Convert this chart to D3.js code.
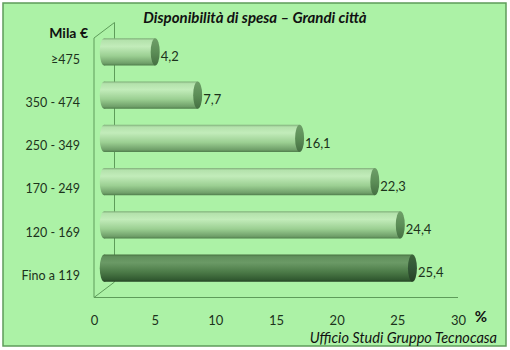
<!DOCTYPE html>
<html>
<head>
<meta charset="utf-8">
<script src="https://cdn.jsdelivr.net/npm/d3@7"></script>
<style>
  body { margin: 0; background: #fff; }
  svg { display: block; font-family: Lato, "Open Sans", sans-serif; }
</style>
</head>
<body>
<svg width="510" height="350"></svg>
<script>
// data
const categories = ['≥475', '350 - 474', '250 - 349', '170 - 249', '120 - 169', 'Fino a 119'];
const values = [4.2, 7.7, 16.1, 22.3, 24.4, 25.4];
const xTicks = [0, 5, 10, 15, 20, 25, 30];
const highlighted = ['Fino a 119'];

const data = categories.map((c, i) => ({ cat: c, value: values[i] }));

let svg = d3.select('svg');

// 3d depth of the plot box
let depthX = 20.5, depthY = -15.5;

let xScale = d3.scaleLinear()
  .domain([0, 30])
  .range([94, 458]);

let yScale = d3.scaleBand()
  .domain(categories)
  .range([38, 297.5])
  .paddingInner(0.37)
  .paddingOuter(0.185);

let band = d3.scaleBand().domain(categories).range([38, 297.5]);

// background + frame
svg.append('rect')
  .attr('x', 3).attr('y', 3)
  .attr('width', 503).attr('height', 343)
  .attr('fill', '#acf2a6')
  .attr('stroke', '#5e9c5a')
  .attr('stroke-width', 1.5);

let defs = svg.append('defs');
function grad(id, stops) {
  let g = defs.append('linearGradient')
    .attr('id', id)
    .attr('x1', 0).attr('y1', 0).attr('x2', 0).attr('y2', 1);
  stops.forEach(s => g.append('stop').attr('offset', s[0]).attr('stop-color', s[1]));
}
grad('gLight', [[0, '#7fae79'], [0.08, '#b4e2ac'], [0.3, '#c2ecba'], [0.65, '#9bcf92'], [0.92, '#6f9f69'], [1, '#4f7d4b']]);
grad('gDark', [[0, '#46703f'], [0.08, '#62905d'], [0.3, '#6b9a66'], [0.65, '#4b7a47'], [0.92, '#325a31'], [1, '#244223']]);
grad('cLight', [[0, '#6f9f69'], [0.5, '#5c8e57'], [1, '#456f42']]);
grad('cDark', [[0, '#3d653a'], [0.5, '#325536'], [1, '#254024']]);

// walls (3d box lines)
let axisColor = '#5e9c5a';
let x0 = xScale(0), yTop = 38, yBot = 297.5;
let wall = svg.append('g')
  .attr('stroke', axisColor)
  .attr('stroke-width', 1)
  .attr('fill', 'none');
wall.append('path')
  .attr('d', `M${x0},${yTop} L${x0 + depthX},${yTop + depthY} L${x0 + depthX},${yBot + depthY}`);
wall.append('path')
  .attr('d', `M${x0},${yTop} L${x0},${yBot} L${xScale(30)},${yBot}`);
wall.append('path')
  .attr('d', `M${x0},${yBot} L${x0 + depthX},${yBot + depthY}`);

// cylinder bars
let capRx = 4.5;
let offX = depthX / 2, offY = depthY / 2;
let bars = svg.selectAll('g.bar')
  .data(data)
  .enter()
  .append('g')
  .classed('bar', true)
  .attr('transform', d => `translate(${offX},${yScale(d.cat) + offY})`);

let bh = yScale.bandwidth();
let isDark = d => highlighted.includes(d.cat);

bars.append('ellipse')
  .attr('cx', x0).attr('cy', bh / 2)
  .attr('rx', capRx).attr('ry', bh / 2)
  .attr('fill', d => isDark(d) ? 'url(#gDark)' : 'url(#gLight)');

bars.append('rect')
  .attr('x', x0)
  .attr('y', 0)
  .attr('width', d => xScale(d.value) - x0)
  .attr('height', bh)
  .attr('fill', d => isDark(d) ? 'url(#gDark)' : 'url(#gLight)');

bars.append('ellipse')
  .attr('cx', d => xScale(d.value)).attr('cy', bh / 2)
  .attr('rx', capRx).attr('ry', bh / 2)
  .attr('fill', d => isDark(d) ? 'url(#cDark)' : 'url(#cLight)');

// value labels
svg.selectAll('text.val')
  .data(data)
  .enter()
  .append('text')
  .classed('val', true)
  .attr('x', d => xScale(d.value) + offX + capRx + 1)
  .attr('y', d => band(d.cat) + band.bandwidth() / 2 - 3)
  .attr('dy', '0.35em')
  .style('font-size', '13px')
  .style('fill', '#1c331c')
  .text(d => String(d.value).replace('.', ','));

// category axis
let yAxis = d3.axisLeft(band).tickSize(0).tickPadding(14);
let yg = svg.append('g')
  .attr('transform', `translate(${x0},0)`)
  .call(yAxis);
yg.select('.domain').remove();
yg.selectAll('text')
  .style('font-size', '12.5px')
  .style('font-family', 'Lato, sans-serif')
  .attr('fill', '#1c331c');

// value axis
let xAxis = d3.axisBottom(xScale).tickValues(xTicks).tickSize(0).tickPadding(18);
let xg = svg.append('g')
  .attr('transform', `translate(0,${yBot})`)
  .call(xAxis);
xg.select('.domain').remove();
xg.selectAll('text')
  .style('font-size', '13px')
  .style('font-family', 'Lato, sans-serif')
  .attr('fill', '#1c331c');

// titles
svg.append('text')
  .attr('x', 255).attr('y', 23)
  .style('text-anchor', 'middle')
  .style('font-size', '15px')
  .style('font-weight', 'bold')
  .style('font-style', 'italic')
  .attr('fill', '#111')
  .text('Disponibilità di spesa – Grandi città');

svg.append('text')
  .attr('x', 88).attr('y', 38)
  .style('text-anchor', 'end')
  .style('font-size', '14px')
  .style('font-weight', 'bold')
  .attr('fill', '#111')
  .text('Mila €');

svg.append('text')
  .attr('x', 481).attr('y', 322)
  .style('text-anchor', 'middle')
  .style('font-size', '15px')
  .style('font-weight', 'bold')
  .attr('fill', '#111')
  .text('%');

svg.append('text')
  .attr('x', 497).attr('y', 343)
  .style('text-anchor', 'end')
  .style('font-size', '14.5px')
  .style('font-style', 'italic')
  .attr('fill', '#111')
  .text('Ufficio Studi Gruppo Tecnocasa');
</script>
</body>
</html>
